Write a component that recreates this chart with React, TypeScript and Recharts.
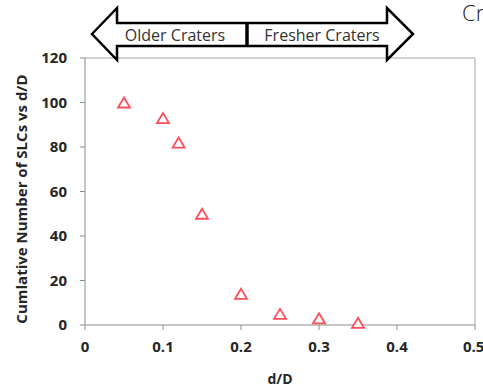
import {
  ReferenceLine,
  Scatter,
  ScatterChart,
  XAxis,
  YAxis,
} from 'recharts'

// d/D of each crater bin and the cumulative SLC count at that value
const depthRatio = [0.05, 0.1, 0.12, 0.15, 0.2, 0.25, 0.3, 0.35]
const cumulativeCount = [100, 93, 82, 50, 14, 5, 3, 1]
const xTicks = [0, 0.1, 0.2, 0.3, 0.4, 0.5]
const yTicks = [0, 20, 40, 60, 80, 100, 120]

const points = depthRatio.map((x, i) => ({ x, y: cumulativeCount[i] }))

const FONT = '"Open Sans", sans-serif'
const AXIS_GREY = '#8c8c8c'
const TICK_STYLE = { fill: '#262626', fontSize: 15, fontWeight: 700, fontFamily: FONT }

// hollow red triangle, centred on the point Recharts hands us
function Triangle(props: { cx?: number; cy?: number }) {
  const { cx = 0, cy = 0 } = props
  const h = 5
  return (
    <path
      d={`M${cx},${cy - h} L${cx + 6},${cy + h} L${cx - 6},${cy + h} Z`}
      fill="#fff"
      stroke="#ff4d5a"
      strokeWidth={1.8}
    />
  )
}

function YLabel() {
  return (
    <text
      transform="translate(21,199) rotate(-90)"
      textAnchor="middle"
      dominantBaseline="central"
      fill="#262626"
      fontSize={15}
      fontWeight={700}
      fontFamily={FONT}
    >
      Cumlative Number of SLCs vs d/D
    </text>
  )
}

// the "older / fresher" double arrow sitting above the plot
function AgeArrow() {
  return (
    <svg
      width={483}
      height={387}
      style={{ position: 'absolute', left: 0, top: 0, pointerEvents: 'none' }}
    >
      <polygon
        points="92,34 117,8 117,23 387,23 387,8 413,34 387,60 387,46 117,46 117,60"
        fill="#fff"
        stroke="#000"
        strokeWidth={2.5}
        strokeLinejoin="miter"
      />
      <line x1={247} y1={23} x2={247} y2={46} stroke="#000" strokeWidth={3.5} />
      <text x={175} y={35} textAnchor="middle" dominantBaseline="central" fontSize={16} fill="#333" fontFamily={FONT}>
        Older Craters
      </text>
      <text x={322} y={35} textAnchor="middle" dominantBaseline="central" fontSize={16} fill="#333" fontFamily={FONT}>
        Fresher Craters
      </text>
      <text x={462} y={21} fontSize={22} fontWeight={300} fill="#222" fontFamily={FONT}>
        Cr
      </text>
    </svg>
  )
}

export default function App() {
  return (
    <div style={{ position: 'absolute', left: 0, top: 0, width: 483, height: 387, background: '#fff' }}>
      <ScatterChart width={483} height={387} margin={{ top: 58, right: 8, left: 0, bottom: 0 }}>
        <XAxis
          type="number"
          dataKey="x"
          domain={[0, 0.5]}
          ticks={xTicks}
          height={62}
          stroke={AXIS_GREY}
          tickSize={5}
          tickMargin={11}
          tick={TICK_STYLE}
          label={{
            value: 'd/D',
            position: 'insideBottom',
            offset: 3,
            style: { ...TICK_STYLE, fontSize: 14 },
          }}
        />
        <YAxis
          type="number"
          dataKey="y"
          domain={[0, 120]}
          ticks={yTicks}
          width={85}
          stroke={AXIS_GREY}
          tickSize={5}
          tickMargin={13}
          tick={TICK_STYLE}
          label={{ content: () => <YLabel /> }}
        />
        <ReferenceLine y={120} stroke="#a6a6a6" />
        <ReferenceLine x={0.5} stroke="#a6a6a6" />
        <Scatter data={points} shape={<Triangle />} isAnimationActive={false} />
      </ScatterChart>
      <AgeArrow />
    </div>
  )
}
